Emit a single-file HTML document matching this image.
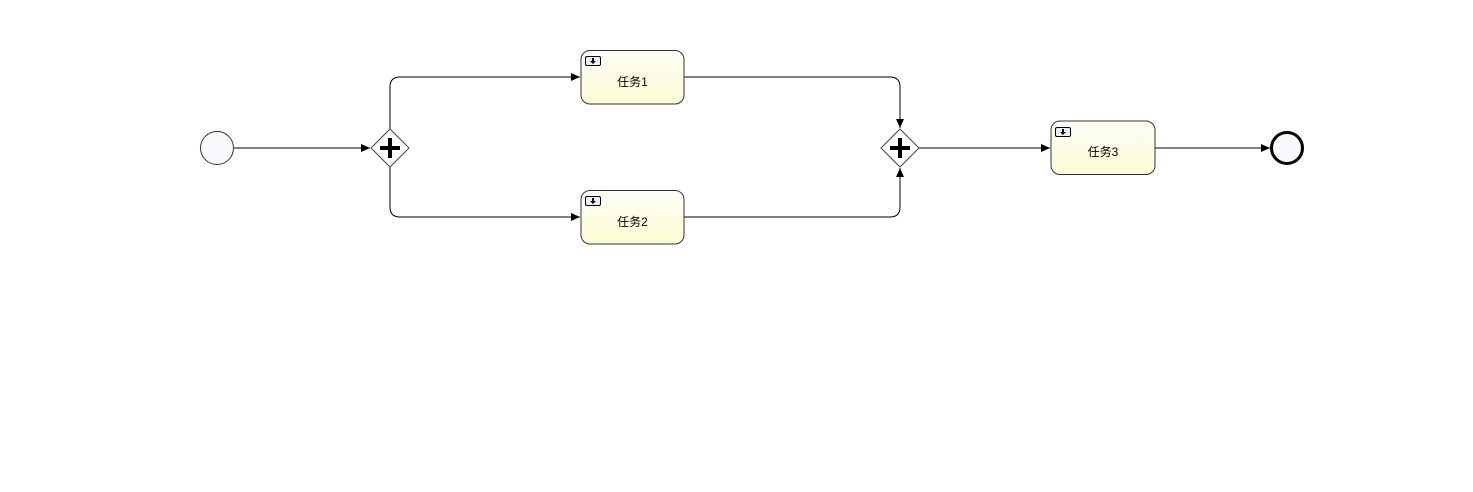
<!DOCTYPE html>
<html><head><meta charset="utf-8"><style>
html,body{margin:0;padding:0;background:#fff;}
svg text{font-family:"Liberation Sans","Noto Sans CJK SC",sans-serif;font-size:12px;}
</style></head><body>
<svg width="1473" height="487" xmlns="http://www.w3.org/2000/svg">
<defs>
<linearGradient id="g" x1="0" y1="0" x2="0" y2="1"><stop offset="0" stop-color="#fdfdf8"/><stop offset="1" stop-color="#fcfcd2"/></linearGradient>
<marker id="a" markerWidth="10" markerHeight="8" refX="9" refY="4" orient="auto" markerUnits="userSpaceOnUse"><path d="M0,0 L9,4 L0,8 Z" fill="#000"/></marker>
</defs>
<g fill="none" stroke="#000" stroke-width="1">
<path d="M233,148 H370" marker-end="url(#a)"/>
<path d="M390,129 V87 Q390,77 400,77 H580" marker-end="url(#a)"/>
<path d="M390,167 V207 Q390,217 400,217 H580" marker-end="url(#a)"/>
<path d="M684,77 H890 Q900,77 900,87 V128" marker-end="url(#a)"/>
<path d="M684,217 H890 Q900,217 900,207 V168" marker-end="url(#a)"/>
<path d="M919,148 H1050" marker-end="url(#a)"/>
<path d="M1155,148 H1270" marker-end="url(#a)"/>
</g>
<circle cx="217" cy="148" r="16.5" fill="#f8f9fc" stroke="#333" stroke-width="1"/>
<circle cx="1287" cy="148" r="15.5" fill="#f8f9fc" stroke="#000" stroke-width="3"/>
<g stroke="#444" fill="#fff">
<path d="M390,129 L409,148 L390,167 L371,148 Z"/>
<path d="M900,129 L919,148 L900,167 L881,148 Z"/>
</g>
<g stroke="#000" stroke-width="4">
<path d="M380,148 H400 M390,138 V158"/>
<path d="M890,148 H910 M900,138 V158"/>
</g>
<g>
<rect x="581" y="50.5" width="103" height="53.5" rx="9" fill="url(#g)" stroke="#333"/>
<rect x="581" y="190.5" width="103" height="53.5" rx="9" fill="url(#g)" stroke="#333"/>
<rect x="1051" y="121" width="104" height="53.5" rx="9" fill="url(#g)" stroke="#333"/>
</g>
<g fill="#e8f0ff" stroke="#000">
<rect x="585.5" y="56.5" width="15" height="9" rx="1.5"/>
<rect x="585.5" y="196.5" width="15" height="9" rx="1.5"/>
<rect x="1055.5" y="127.5" width="15" height="9" rx="1.5"/>
</g>
<g fill="#000">
<rect x="592" y="58" width="2" height="4"/><path d="M590,61 h6 l-3,3 z"/>
<rect x="592" y="198" width="2" height="4"/><path d="M590,201 h6 l-3,3 z"/>
<rect x="1062" y="129" width="2" height="4"/><path d="M1060,132 h6 l-3,3 z"/>
</g>
<text x="632.5" y="86" text-anchor="middle">任务1</text>
<text x="632.5" y="226" text-anchor="middle">任务2</text>
<text x="1103" y="156" text-anchor="middle">任务3</text>
</svg>
</body></html>
